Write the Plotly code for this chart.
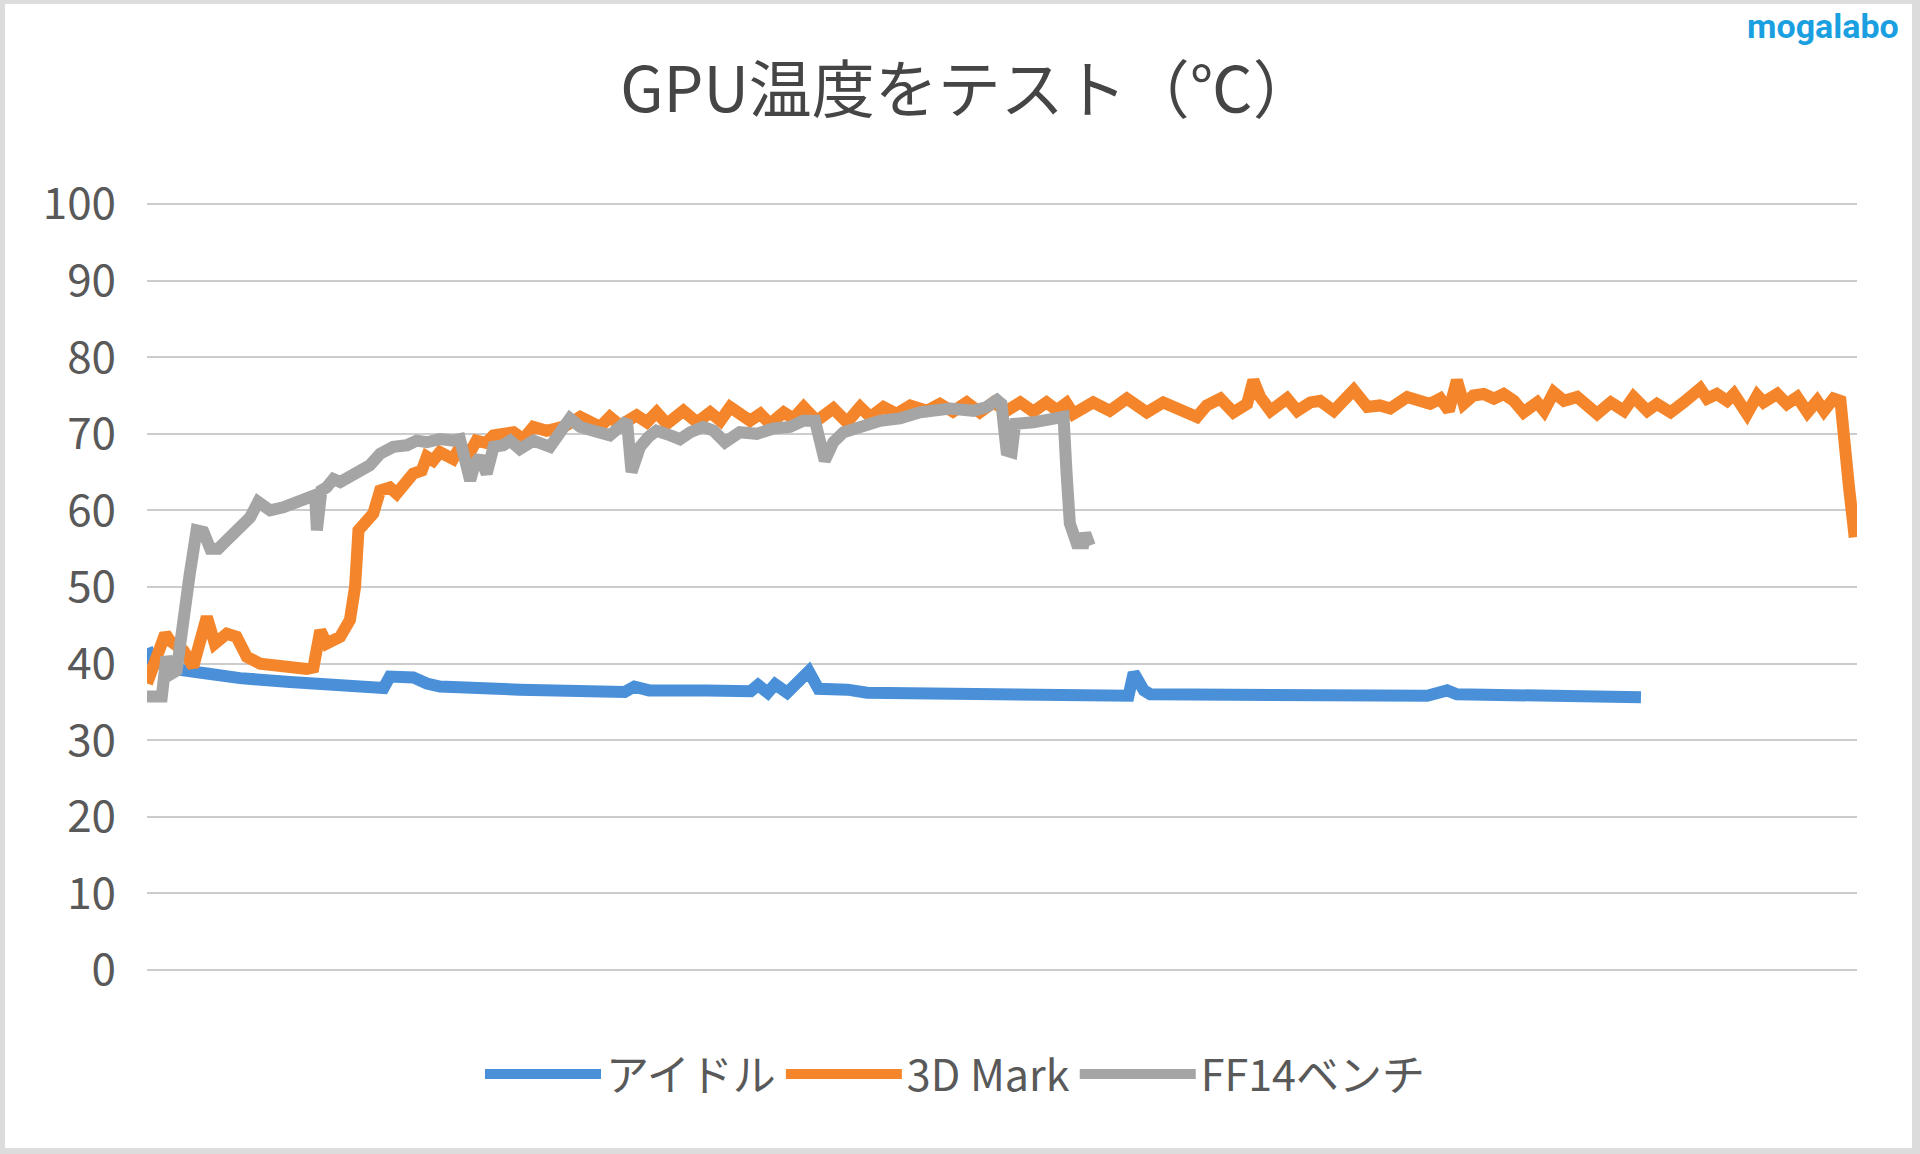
import plotly.graph_objects as go

# ---------------- data (x = sample index, y = GPU temperature in °C) ----------------
idle_x = [0, 0.8, 2.3, 4.6, 10.5, 16.3, 25.1, 33.9, 41.5, 42.6, 46.7, 49.1, 51.4, 65.4,
          83.8, 85.5, 88.1, 98.2, 105.9, 107.2, 108.9, 110.2, 112.3, 116.1, 117.8, 122.9,
          126.3, 172.2, 173.1, 174.9, 176.0, 224.6, 228.1, 229.8, 262.1]
idle_y = [42.0, 40.5, 40.0, 39.3, 38.7, 38.1, 37.6, 37.2, 36.8, 38.3, 38.2, 37.4, 37.0, 36.6,
          36.3, 37.0, 36.5, 36.5, 36.4, 37.2, 36.2, 37.3, 36.2, 39.0, 36.7, 36.6,
          36.2, 35.8, 38.8, 36.5, 36.0, 35.8, 36.5, 36.0, 35.6]

mark_x = [0, 1.1, 3.2, 4.0, 6.4, 8.1, 10.5, 11.9, 14.0, 15.7, 17.5, 19.8, 23.3, 28.0, 29.2,
          30.4, 31.5, 32.7, 33.9, 35.6, 36.5, 37.1, 38.5, 39.7, 40.9, 42.6, 43.8, 45.6, 46.7,
          48.2, 49.1, 50.2, 51.4, 53.7, 54.9, 56.7, 57.8, 59.5, 60.8,
          64.3, 66.0, 67.8, 70.1, 71.9, 73.6, 76.0, 78.0, 79.5, 81.2, 83.0, 85.9, 87.7, 89.4,
          91.2, 94.1, 96.5, 98.8, 100.6, 102.3, 104.7, 105.8, 107.6, 109.3, 111.7, 113.4,
          115.2, 117.5, 120.4, 122.8, 125.1, 126.9, 129.2, 131.5, 133.9,
          136.8, 139.1, 141.4, 143.8, 146.1, 148.5, 150.8, 153.2, 155.5, 157.8, 159.6, 161.3,
          162.5, 166.0, 168.9, 171.9, 175.4, 178.3, 181.2, 184.2, 185.9, 188.3, 190.6, 193.0,
          194.1, 195.3, 197.1, 200.0, 201.8, 204.1, 205.8, 208.2, 211.7, 214.1,
          216.3, 218.1, 221.1, 223.4, 225.1, 226.9, 228.4, 229.8, 231.0, 232.7, 234.5, 236.3,
          238.0, 239.8, 241.5, 243.9, 245.1, 246.8, 248.6, 250.9, 252.7, 254.4, 256.8, 259.1,
          260.8, 263.2, 264.9, 267.3, 269.6, 272.5, 273.7, 275.4, 277.2, 278.4, 280.7, 282.5,
          283.6, 286.0, 287.7, 289.5, 291.3, 293.0, 294.2, 295.9, 297.1, 297.7, 298.6, 299.6]
mark_y = [37.4, 39.6, 43.9, 43.0, 41.7, 39.6, 46.1, 42.6, 43.9, 43.5, 40.9, 40.0, 39.6, 39.3, 39.5,
          44.3, 42.6, 43.0, 43.5, 45.7, 50.0, 57.4, 58.7, 59.6, 62.6, 63.0, 62.2, 63.5, 64.8,
          65.2, 67.0, 66.5, 67.6, 66.7, 68.3, 67.6, 69.1, 68.8, 69.8,
          70.2, 69.3, 70.9, 70.4, 70.7, 71.1, 72.2, 71.3, 70.9, 72.2, 71.1, 72.4, 71.5, 72.8,
          71.3, 73.0, 71.5, 72.8, 71.7, 73.5, 72.2, 71.7, 72.6, 71.3, 72.8, 72.0,
          73.5, 71.7, 73.3, 71.5, 73.5, 72.2, 73.5, 72.6, 73.7,
          73.0, 73.9, 72.9, 74.1, 72.8, 74.1, 73.0, 74.1, 72.9, 74.1, 73.1, 74.0,
          72.6, 74.1, 73.0, 74.6, 72.8, 74.1, 73.3, 72.2, 73.7, 74.6, 72.8, 73.9,
          77.0, 74.8, 73.0, 74.6, 73.0, 74.1, 74.3, 73.0, 75.7, 73.5,
          73.7, 73.3, 74.8, 74.1, 73.9, 74.6, 73.0, 77.0, 73.9, 75.0, 75.2, 74.6,
          75.2, 74.3, 72.8, 74.1, 73.0, 75.4, 74.3, 74.8, 73.9, 72.6, 74.1, 73.0,
          74.8, 73.0, 73.9, 72.8, 74.1, 75.9, 74.6, 75.2, 74.3, 75.2, 72.6, 75.0,
          74.1, 75.2, 73.9, 74.8, 72.8, 74.3, 73.0, 74.6, 74.3, 70.9, 63.0, 56.5]

ff14_x = [0, 2.6, 3.4, 4.3, 5.2, 6.4, 7.5, 8.7, 9.9, 11.1, 12.5, 14.0, 16.3, 18.1, 19.5, 20.7,
          21.6, 23.9, 26.3, 28.6, 29.5, 29.8, 30.6, 31.5, 32.7, 33.9, 35.3, 37.4, 39.1, 40.9,
          43.2, 45.6, 47.3, 49.1, 51.4, 53.7, 54.9, 56.7, 57.5, 58.4, 59.6, 60.8, 62.5, 63.7,
          65.4, 67.8, 70.7, 74.2, 76.0, 78.3, 81.2, 83.6, 84.2, 85.0, 86.5, 88.0, 89.4, 91.8,
          93.5, 95.3, 97.6, 99.4, 101.4, 104.0, 107.0, 109.9, 112.8, 115.1, 117.2, 118.9,
          120.4, 122.2, 125.1, 128.6, 132.1, 135.6, 140.9, 145.0, 147.3, 149.1, 149.9, 150.8,
          151.7, 152.3, 155.5, 160.8, 161.3, 161.9, 163.1, 164.3, 164.6, 165.4]
ff14_y = [35.7, 35.7, 40.9, 38.7, 39.1, 46.5, 51.7, 57.4, 57.2, 55.0, 55.0, 56.1, 57.6, 59.1, 61.1, 60.7,
          60.0, 60.4, 61.1, 61.7, 62.0, 57.4, 62.6, 63.0, 64.1, 63.7, 64.3, 65.0, 65.9, 67.4,
          68.3, 68.5, 69.1, 68.9, 69.3, 69.1, 69.3, 63.9, 66.1, 67.0, 64.8, 68.3, 68.5, 69.1,
          68.0, 69.1, 68.3, 72.0, 70.9, 70.4, 69.8, 71.3, 71.7, 65.0, 68.3, 69.6, 70.4, 69.8,
          69.3, 70.2, 70.9, 70.4, 68.9, 70.2, 70.0, 70.7, 70.9, 71.7, 71.7, 66.5,
          68.9, 70.2, 70.9, 71.7, 72.0, 72.8, 73.3, 73.0, 73.5, 74.4, 73.9, 67.8,
          67.6, 71.3, 71.5, 72.2, 65.2, 58.3, 55.7, 55.7, 57.0, 55.4]

series_names = ["アイドル", "3D Mark", "FF14ベンチ"]
series_colors = ["#4a90d9", "#f5852a", "#a5a5a5"]
y_ticks = [0, 10, 20, 30, 40, 50, 60, 70, 80, 90, 100]
title_text = "GPU温度をテスト（℃）"
watermark = "mogalabo"

# ---------------- layout geometry (pixels) ----------------
W, H = 1920, 1154
L, R, T, B = 147, 63, 202, 184
PW, PH = W - L - R, H - T - B
Y_TOP = 100.26  # small headroom so the 100 gridline is drawn


def px_x(p):
    return (p - L) / PW


def px_y(p):
    return (H - B - p) / PH


FONT = "Noto Sans CJK JP"

fig = go.Figure()
for xs, ys, name, color in zip([idle_x, mark_x, ff14_x], [idle_y, mark_y, ff14_y],
                               series_names, series_colors):
    fig.add_trace(go.Scatter(x=xs, y=ys, name=name, mode="lines",
                             line=dict(color=color, width=12)))

shapes = []
border = "#dcdcdc"
for x0, x1, y0, y1 in [(0, 5, 0, H), (1912, W, 0, H), (0, W, 0, 4), (0, W, 1148, H)]:
    shapes.append(dict(type="rect", xref="paper", yref="paper",
                       x0=px_x(x0), x1=px_x(x1), y0=px_y(y1), y1=px_y(y0),
                       fillcolor=border, line=dict(width=0), layer="above"))

fig.update_layout(
    width=W, height=H,
    margin=dict(l=L, r=R, t=T, b=B),
    paper_bgcolor="white", plot_bgcolor="white",
    title=dict(text=title_text, x=968 / W, xanchor="center", y=1 - 90 / H, yanchor="middle",
               yref="container", font=dict(family=FONT, size=63, color="#454545")),
    xaxis=dict(range=[0, 300], showgrid=False, zeroline=False, showticklabels=False,
               showline=False, ticks=""),
    yaxis=dict(range=[0, Y_TOP], tickvals=y_ticks, ticktext=[str(v) for v in y_ticks],
               showgrid=True, gridcolor="#cccccc", gridwidth=2,
               zeroline=True, zerolinecolor="#cccccc", zerolinewidth=2,
               showline=False, ticks="", ticklabelstandoff=30,
               tickfont=dict(family=FONT, size=44, color="#595959")),
    legend=dict(orientation="h", x=px_x(955), xanchor="center", y=px_y(1074), yanchor="middle",
                font=dict(family=FONT, size=43, color="#595959"), itemwidth=116,
                bgcolor="rgba(0,0,0,0)"),
    shapes=shapes,
    annotations=[dict(text="<b>" + watermark + "</b>", xref="paper", yref="paper",
                      x=px_x(1823), y=px_y(26), xanchor="center", yanchor="middle",
                      showarrow=False, font=dict(family="Roboto", size=34, color="#1a9fe0"))],
)

fig.write_html("out.html")
